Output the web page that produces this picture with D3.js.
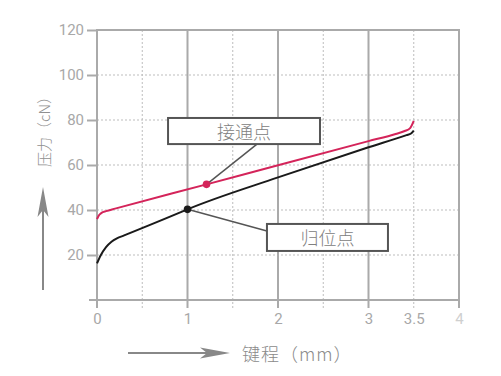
<!DOCTYPE html>
<html>
<head>
<meta charset="utf-8">
<script src="https://cdn.jsdelivr.net/npm/d3@7"></script>
<style>
  body { margin: 0; background: #fff; }
  svg { display: block; }
</style>
</head>
<body>
<svg id="chart"></svg>
<script>
// travel (mm) vs force (cN)
const contactX = [0, 0.02, 0.05, 0.1, 0.2, 1.21, 2, 3, 3.3, 3.4, 3.46, 3.5]
const contactY = [35.9, 37.6, 38.7, 39.5, 40.6, 51.4, 59.9, 70.6, 73.8, 75.1, 76.4, 79.6]
const resetX = [0, 0.04, 0.1, 0.16, 0.22, 0.3, 0.9, 1, 2, 3, 3.42, 3.47, 3.5]
const resetY = [16.3, 19.8, 23.5, 25.9, 27.4, 28.7, 38.6, 40.3, 54.5, 67.9, 73.3, 74, 75.3]

const xTicks = [0, 1, 2, 3, 3.5, 4]
const xTickLabels = ['0', '1', '2', '3', '3.5', '4']
const xSolid = [0, 1, 2, 3, 4]
const xDotted = [0.5, 1.5, 2.5, 3.5]
const yTicks = [20, 40, 60, 80, 100, 120]
const yDotted = [20, 40, 60, 80, 100]

// callouts: marker point, box corners (data units), connector end
const callouts = [
	{label: '接通点', px: 1.21, py: 51.4, x0: 0.785, x1: 2.464, y0: 80.9, y1: 69.3, ex: 1.768, ey: 69.3, color: '#d4245a'},
	{label: '归位点', px: 1.0, py: 40.3, x0: 1.878, x1: 3.215, y0: 33.8, y1: 21.8, ex: 1.878, ey: 30.7, color: '#1a1a1a'}
]

const width = 501, height = 376
const margin = {top: 30, right: 42, bottom: 76, left: 97}

const svg = d3.select('#chart').attr('width', width).attr('height', height)

const x = d3.scaleLinear().domain([0, 4]).range([margin.left, width - margin.right])
const y = d3.scaleLinear().domain([0, 120]).range([height - margin.bottom, margin.top])

const grid = svg.append('g')

// dotted grid
grid.selectAll('.hd').data(yDotted).join('line')
	.attr('x1', x(0)).attr('x2', x(4))
	.attr('y1', d => y(d)).attr('y2', d => y(d))
	.attr('stroke', '#bdbdbd').attr('stroke-width', 1).attr('stroke-dasharray', '2,2')
grid.selectAll('.vd').data(xDotted).join('line')
	.attr('x1', d => x(d)).attr('x2', d => x(d))
	.attr('y1', y(120)).attr('y2', y(0) + 8)
	.attr('stroke', '#bdbdbd').attr('stroke-width', 1).attr('stroke-dasharray', '2,2')

// solid verticals + frame
grid.selectAll('.vs').data(xSolid).join('line')
	.attr('x1', d => x(d)).attr('x2', d => x(d))
	.attr('y1', y(120)).attr('y2', y(0) + 8)
	.attr('stroke', '#aaa').attr('stroke-width', 2)
grid.append('line')
	.attr('x1', x(0) - 1).attr('x2', x(4) + 1)
	.attr('y1', y(120)).attr('y2', y(120))
	.attr('stroke', '#aaa').attr('stroke-width', 2)
grid.append('line')
	.attr('x1', x(0) - 8).attr('x2', x(4))
	.attr('y1', y(0)).attr('y2', y(0))
	.attr('stroke', '#aaa').attr('stroke-width', 2)

// y axis ticks and labels
const yAxis = svg.append('g')
	.attr('transform', 'translate(' + x(0) + ',0)')
	.call(d3.axisLeft(y).tickValues(yTicks).tickSize(10).tickPadding(3))
yAxis.select('.domain').remove()
yAxis.selectAll('.tick line').attr('stroke', '#aaa').attr('stroke-width', 2)
yAxis.selectAll('.tick text')
	.attr('fill', '#a8a8a8')
	.style('font-family', 'Roboto, sans-serif')
	.style('font-size', '15px')

// x axis labels
const xAxis = svg.append('g')
	.attr('transform', 'translate(0,' + y(0) + ')')
	.call(d3.axisBottom(x).tickValues(xTicks).tickFormat((d, i) => xTickLabels[i]).tickSize(0).tickPadding(13))
xAxis.select('.domain').remove()
xAxis.selectAll('.tick text')
	.attr('fill', (d, i) => i === xTicks.length - 1 ? '#cfcfcf' : '#a8a8a8')
	.style('font-family', 'Roboto, sans-serif')
	.style('font-size', '15px')

// curves
const line = d3.line().x(d => x(d[0])).y(d => y(d[1])).curve(d3.curveMonotoneX)
svg.append('path')
	.datum(resetX.map((v, i) => [v, resetY[i]]))
	.attr('d', line)
	.attr('fill', 'none').attr('stroke', '#1a1a1a').attr('stroke-width', 2)
svg.append('path')
	.datum(contactX.map((v, i) => [v, contactY[i]]))
	.attr('d', line)
	.attr('fill', 'none').attr('stroke', '#d4245a').attr('stroke-width', 2)

// callouts
const co = svg.append('g').selectAll('g').data(callouts).join('g')
co.append('line')
	.attr('x1', d => x(d.px)).attr('y1', d => y(d.py))
	.attr('x2', d => x(d.ex)).attr('y2', d => y(d.ey))
	.attr('stroke', '#555').attr('stroke-width', 1.5)
co.append('circle')
	.attr('cx', d => x(d.px)).attr('cy', d => y(d.py)).attr('r', 3.8)
	.attr('fill', d => d.color)
co.append('rect')
	.attr('x', d => x(d.x0)).attr('y', d => y(d.y0))
	.attr('width', d => x(d.x1) - x(d.x0)).attr('height', d => y(d.y1) - y(d.y0))
	.attr('fill', '#fff').attr('stroke', '#555').attr('stroke-width', 2)
co.append('text')
	.attr('x', d => (x(d.x0) + x(d.x1)) / 2)
	.attr('y', d => (y(d.y0) + y(d.y1)) / 2)
	.attr('text-anchor', 'middle').attr('dominant-baseline', 'central')
	.attr('fill', '#808080')
	.style('font-family', '"Noto Sans CJK SC", sans-serif')
	.style('font-weight', 300)
	.style('font-size', '18px')
	.text(d => d.label)

// axis titles with arrows
const arrowHead = 'M0,0 L-30,-5.5 L-23,0 L-30,5.5 Z'

const yt = svg.append('g').attr('transform', 'translate(43,0)')
yt.append('line').attr('x1', 0).attr('x2', 0).attr('y1', 290).attr('y2', 200)
	.attr('stroke', '#888').attr('stroke-width', 2)
yt.append('path').attr('d', arrowHead).attr('transform', 'translate(0,187) rotate(-90)').attr('fill', '#888')
yt.append('text')
	.attr('transform', 'translate(0,128) rotate(-90)')
	.attr('text-anchor', 'middle').attr('dominant-baseline', 'central')
	.attr('fill', '#909090')
	.style('font-family', '"Noto Sans CJK SC", sans-serif')
	.style('font-weight', 300)
	.style('font-size', '15px')
	.text('压力（cN）')

const xt = svg.append('g').attr('transform', 'translate(0,353)')
xt.append('line').attr('x1', 128).attr('x2', 215).attr('y1', 0).attr('y2', 0)
	.attr('stroke', '#888').attr('stroke-width', 2)
xt.append('path').attr('d', arrowHead).attr('transform', 'translate(230,0)').attr('fill', '#888')
xt.append('text')
	.attr('x', 242).attr('y', 0)
	.attr('dominant-baseline', 'central')
	.attr('fill', '#8a8a8a')
	.style('font-family', '"Noto Sans CJK SC", sans-serif')
	.style('font-weight', 300)
	.style('font-size', '18px')
	.style('letter-spacing', '1px')
	.text('键程（mm）')
</script>
</body>
</html>
